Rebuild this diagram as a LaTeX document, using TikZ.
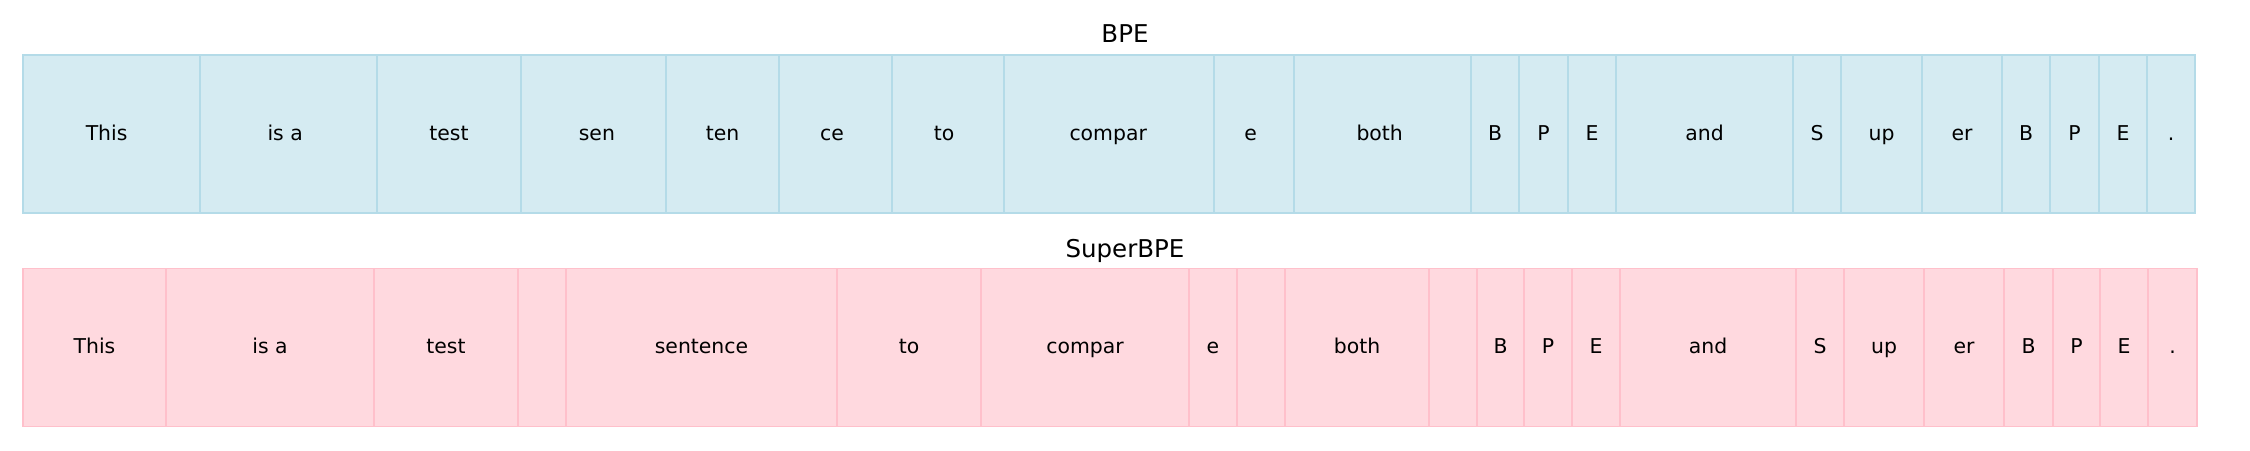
\documentclass[tikz,border=0pt]{standalone}
\usepackage{fontspec}
\setmainfont{DejaVu Sans}
\definecolor{bpefill}{HTML}{D5EBF2}
\definecolor{bpeedge}{HTML}{B4DBE8}
\definecolor{supfill}{HTML}{FFD9DF}
\definecolor{supedge}{HTML}{FFC0CB}
\tikzset{
  cellbase/.style={rectangle, inner sep=0pt, outer sep=0pt, line width=1.2pt,
    minimum height=158pt, text height=15.3pt, text depth=3.3pt,
    font=\fontsize{20.4}{24}\selectfont, text=black},
  bpecell/.style={cellbase, fill=bpefill, draw=bpeedge},
  supcell/.style={cellbase, fill=supfill, draw=supedge},
  rowtitle/.style={anchor=base, inner sep=0pt, font=\fontsize{24.5}{29}\selectfont, text=black}
}
\begin{document}
\begin{tikzpicture}[x=1pt,y=-1pt]
\useasboundingbox (0,0) rectangle (2250,450);
\node[rowtitle] (tbpe) at (1125,42.5) {BPE};
\node[rowtitle] (tsup) at (1125,257) {SuperBPE};
\foreach \l/\r/\s/\t [count=\i] in {23/200/-9.8/This,200/377/-6.6/is a,377/521/0/test,521/666/6.8/sen,666/779/0/ten,779/892/-7/ce,892/1004/-7.6/to,1004/1214/-1.6/compar,1214/1294/-6.6/e,1294/1471/-5.6/both,1471/1519/0/B,1519/1568/0/P,1568/1616/0/E,1616/1793/0/and,1793/1841/0/S,1841/1922/0/up,1922/2002/0/er,2002/2050/0/B,2050/2099/0/P,2099/2147/0/E,2147/2195/0/.}{
  \node[bpecell, minimum width={(\r-\l)*1pt}] (b\i) at ({(\l+\r)/2},134) {\hspace*{\s pt}\t};
}
\foreach \l/\r/\t [count=\i] in {23/166/This,166/374/is a,374/518/test,518/566/{},566/837/sentence,837/981/to,981/1189/compar,1189/1237/e,1237/1285/{},1285/1429/both,1429/1477/{},1477/1524/B,1524/1572/P,1572/1620/E,1620/1796/and,1796/1844/S,1844/1924/up,1924/2004/er,2004/2053/B,2053/2100/P,2100/2148/E,2148/2197/.}{
  \node[supcell, minimum width={(\r-\l)*1pt}] (s\i) at ({(\l+\r)/2},347.5) {\t};
}
\end{tikzpicture}
\end{document}
